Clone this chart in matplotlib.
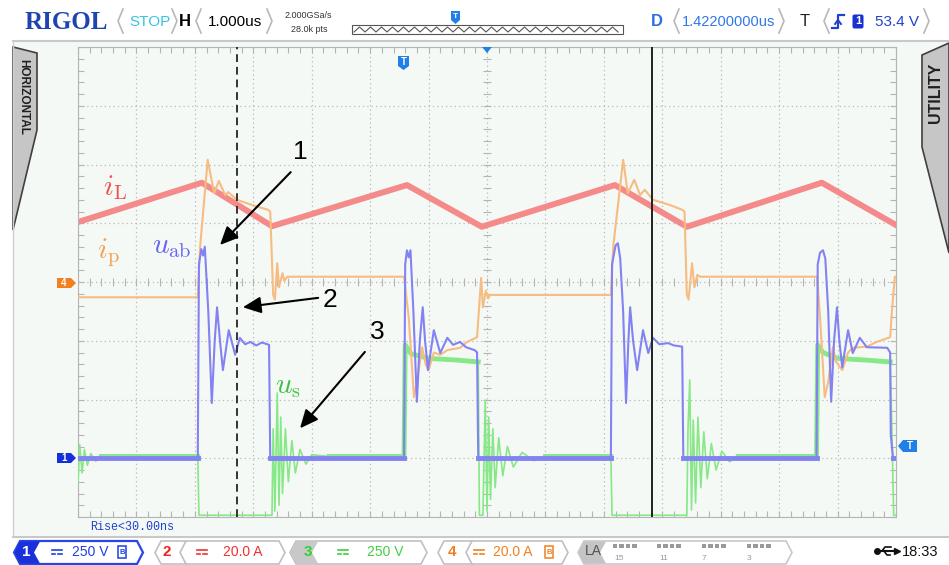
import numpy as np
import matplotlib.pyplot as plt
from matplotlib.patches import Polygon, Rectangle, FancyBboxPatch

plt.rcParams['font.family'] = ['Liberation Sans', 'DejaVu Sans']
plt.rcParams['mathtext.fontset'] = 'cm'

# time axis in us (1 us/div, 14 div), amplitude in screen divisions (0 = centre)
t_il = [0.0, 2.12, 3.32, 5.63, 6.91, 9.19, 10.42, 12.73, 14.0]
il = [1.02, 1.69, 0.95, 1.65, 0.94, 1.65, 0.94, 1.69, 0.97]

t_ip = [0.0, 2.05, 2.09, 2.22, 2.33, 2.41, 2.52, 2.57, 2.72, 2.98, 3.25, 3.29, 3.34, 3.37, 3.41, 3.44, 3.50, 3.53, 3.58, 5.58,
        5.66, 5.75, 5.80, 5.89, 5.95, 6.00, 6.09, 6.20, 6.32, 6.54, 6.66, 6.83, 6.86, 6.90, 6.93, 6.98, 7.02, 7.05, 9.12,
        9.16, 9.33, 9.41, 9.52, 9.62, 9.70, 9.84, 10.13, 10.34, 10.38, 10.42, 10.45, 10.51, 10.55, 10.60, 10.65, 12.65,
        12.70, 12.78, 12.84, 12.92, 12.97, 13.08, 13.18, 13.26, 13.50, 13.67, 13.90, 13.93, 13.98, 14.0]
ip = [-0.26, -0.26, 0.60, 2.08, 1.51, 1.72, 1.48, 1.53, 1.40, 1.31, 1.23, 1.20, -0.22, -0.30, 0.32, -0.09, 0.15, 0.02, 0.09, 0.09,
      -0.60, -1.96, -1.70, -1.11, -1.40, -1.50, -1.20, -1.24, -1.16, -1.12, -1.02, -0.94, -0.50, 0.07, -0.43, -0.15, -0.28, -0.22, -0.22,
      0.60, 2.08, 1.51, 1.74, 1.48, 1.57, 1.40, 1.31, 1.23, 1.20, -0.22, -0.30, 0.32, -0.09, 0.12, 0.09, 0.09,
      -0.60, -1.96, -1.70, -1.11, -1.35, -1.50, -1.20, -1.12, -1.10, -1.02, -0.94, -0.50, 0.09, 0.09]

t_uab = [0.0, 2.05, 2.07, 2.11, 2.14, 2.17, 2.23, 2.29, 2.34, 2.38, 2.43, 2.48, 2.58, 2.69, 2.77, 2.86, 2.95, 3.05, 3.15, 3.27, 3.29, 5.58,
         5.60, 5.63, 5.66, 5.69, 5.74, 5.80, 5.85, 5.90, 5.94, 5.99, 6.09, 6.20, 6.32, 6.42, 6.54, 6.64, 6.79, 6.83, 6.85, 9.12,
         9.14, 9.20, 9.24, 9.28, 9.33, 9.38, 9.42, 9.45, 9.50, 9.57, 9.67, 9.76, 9.84, 9.95, 10.10, 10.20, 10.34, 10.36, 12.64,
         12.66, 12.70, 12.75, 12.79, 12.84, 12.89, 12.94, 12.99, 13.03, 13.08, 13.18, 13.26, 13.38, 13.50, 13.85, 13.90, 13.91, 13.95, 14.0]
uab = [-3.0, -3.0, 0.30, 0.56, 0.45, 0.60, -0.50, -2.06, -1.00, -0.43, -1.00, -1.50, -0.82, -1.24, -0.95, -1.06, -1.02, -1.08, -1.03, -1.07, -3.0, -3.0,
       0.30, 0.54, 0.42, 0.54, -0.50, -2.04, -1.00, -0.43, -1.00, -1.50, -0.82, -1.21, -0.95, -1.07, -1.02, -1.11, -1.16, -1.20, -3.0, -3.0,
       0.30, 0.62, 0.66, 0.40, -0.50, -2.06, -1.00, -0.43, -1.00, -1.50, -0.82, -1.21, -0.95, -1.06, -1.04, -1.08, -1.10, -3.0, -3.0,
       0.30, 0.50, 0.54, 0.40, -0.50, -2.04, -1.00, -0.43, -1.00, -1.45, -0.82, -1.21, -0.95, -1.11, -1.12, -1.20, -2.60, -3.0, -3.0]

t_us = [0.0, 0.03, 0.07, 0.11, 0.16, 0.22, 0.30, 0.40, 2.05, 2.07, 3.32, 3.34, 3.37, 3.41, 3.44, 3.47, 3.50, 3.55, 3.60, 3.66, 3.72, 3.80, 3.90, 4.00, 4.30, 5.58,
        5.60, 5.70, 6.00, 6.50, 6.85, 6.87, 6.93, 6.97, 7.00, 7.03, 7.06, 7.10, 7.14, 7.20, 7.27, 7.35, 7.45, 7.60, 7.80, 8.00, 9.12,
        9.14, 10.42, 10.44, 10.47, 10.50, 10.53, 10.57, 10.61, 10.66, 10.71, 10.77, 10.84, 10.92, 11.02, 11.15, 11.30, 12.64,
        12.66, 12.75, 13.00, 13.50, 13.90, 13.93, 13.96, 14.0]
us = [-3.42, -2.77, -3.25, -2.85, -3.12, -2.92, -3.05, -2.97, -2.97, -3.97, -3.97, -2.50, -3.90, -1.89, -3.80, -2.30, -3.60, -2.50, -3.40, -2.70, -3.25, -2.85, -3.10, -2.94, -2.97, -2.97,
      -1.07, -1.22, -1.30, -1.33, -1.36, -3.97, -3.97, -2.01, -3.90, -2.30, -3.70, -2.50, -3.50, -2.65, -3.30, -2.80, -3.15, -2.90, -3.04, -2.97, -2.97,
      -3.97, -3.97, -2.50, -1.67, -3.88, -2.35, -3.76, -2.30, -3.50, -2.55, -3.35, -2.75, -3.20, -2.88, -3.06, -2.97, -2.97,
      -1.07, -1.20, -1.30, -1.33, -1.36, -2.50, -3.97, -3.97]

cursor_a = 2.72
cursor_b = 9.82

C_IL, C_IP, C_UAB, C_US = '#f48a8a', '#f7bc82', '#8282f2', '#86e886'
SCREEN = '#f5f9f5'
W, H = 949, 565

fig = plt.figure(figsize=(W / 100, H / 100), dpi=100, facecolor='white')
back = fig.add_axes([0, 0, 1, 1], zorder=0)
back.set_xlim(0, W)
back.set_ylim(H, 0)
back.axis('off')
back.add_patch(Rectangle((13, 41), W - 13, 496, fc=SCREEN, ec='none'))

# scope screen
ax = fig.add_axes([78 / W, 1 - 517 / H, (896 - 78) / W, (517 - 47) / H], zorder=1)
ax.set_facecolor(SCREEN)
ax.set_xlim(0, 14)
ax.set_ylim(-4, 4)
ax.set_xticks(range(15))
ax.set_yticks(range(-4, 5))
ax.set_xticks(np.arange(0, 14.01, 0.2), minor=True)
ax.set_yticks(np.arange(-4, 4.01, 0.2), minor=True)
ax.tick_params(which='both', direction='in', length=4, width=0.8, color='#b4b4b4',
               top=True, right=True, labelbottom=False, labelleft=False)
ax.grid(True, which='major', ls=(0, (1, 2.5)), color='#b8b8b8', lw=0.9)
for s in ax.spines.values():
    s.set_color('#b4b4b4')
cx = np.arange(0.2, 14, 0.2)
ax.plot(cx, np.zeros_like(cx), ls='none', marker='|', ms=6, mew=0.8, color='#b4b4b4')
cy = np.arange(-3.8, 4, 0.2)
ax.plot(np.full_like(cy, 7), cy, ls='none', marker='_', ms=6, mew=0.8, color='#b4b4b4')

# traces
ax.plot(t_il, il, color=C_IL, lw=4.3, zorder=2)
us_a = np.array(us)
us_band = np.where(np.isclose(us_a, -2.97) | (us_a > -1.45), us_a, np.nan)
ax.plot(t_us, us_band, color=C_US, lw=3.5, zorder=3)
ax.plot(t_us, us, color=C_US, lw=1.2, zorder=3)
ax.plot(t_ip, ip, color=C_IP, lw=1.5, zorder=4)
uab_a = np.array(uab)
uab_band = np.where(uab_a <= -2.99, uab_a, np.nan)
ax.plot(t_uab, uab_band, color=C_UAB, lw=3.5, zorder=5)
ax.plot(t_uab, uab, color=C_UAB, lw=1.5, zorder=5)

ax.axvline(cursor_a, color='#333333', lw=1.4, ls=(0, (4, 2.5)), zorder=6)
ax.axvline(cursor_b, color='#222222', lw=1.4, zorder=6)

# labels and arrows
ax.text(0.43, 1.48, r'$i_{\rm L}$', color='#f05050', fontsize=21, zorder=7)
ax.text(0.33, 0.41, r'$i_{\rm p}$', color='#f5a050', fontsize=21, zorder=7)
ax.text(1.27, 0.49, r'$u_{\rm ab}$', color='#6464f0', fontsize=21, zorder=7)
ax.text(3.37, -1.89, r'$u_{\rm s}$', color='#40c040', fontsize=21, zorder=7)
for lab, pos, tail, head in [('1', (3.80, 2.21), (3.64, 1.87), (2.43, 0.63)),
                             ('2', (4.31, -0.31), (4.11, -0.27), (2.82, -0.43)),
                             ('3', (5.13, -0.85), (4.91, -1.19), (3.80, -2.49))]:
    ax.text(pos[0], pos[1], lab, fontsize=19, ha='center', va='center', zorder=8)
    ax.annotate('', xy=head, xytext=tail, zorder=8,
                arrowprops=dict(arrowstyle='-|>,head_length=0.55,head_width=0.25', color='k',
                                lw=1.5, mutation_scale=20, shrinkA=0, shrinkB=0))

# instrument chrome, pixel coordinates
ov = fig.add_axes([0, 0, 1, 1], zorder=2)
ov.set_xlim(0, W)
ov.set_ylim(H, 0)
ov.axis('off')
ov.patch.set_alpha(0)

ov.plot([13, W], [41, 41], color='#c8c8c8', lw=1.5)
ov.plot([13, W], [537, 537], color='#c8c8c8', lw=1.5)
ov.plot([13, 13], [41, 537], color='#d0d0d0', lw=1)


def lbr(x, y0=9, y1=33, c='#b8b8b8'):
    ov.plot([x + 5, x, x + 5], [y0, (y0 + y1) / 2, y1], color=c, lw=1.2)


def rbr(x, y0=9, y1=33, c='#b8b8b8'):
    ov.plot([x - 5, x, x - 5], [y0, (y0 + y1) / 2, y1], color=c, lw=1.2)


ov.text(25, 29, 'RIGOL', family=['Liberation Serif', 'DejaVu Serif'], weight='bold', fontsize=18,
        color='#1e44b0', va='baseline')
lbr(118); rbr(177)
ov.text(150, 22, 'STOP', color='#38c4e6', fontsize=11, ha='center', va='center')
ov.text(185, 22, 'H', weight='bold', fontsize=12, ha='center', va='center')
lbr(196); rbr(272)
ov.text(235, 22, '1.000us', fontsize=11, ha='center', va='center')
ov.text(308, 15, '2.000GSa/s', fontsize=6.5, ha='center', va='center', color='#333333')
ov.text(309, 30, '28.0k pts', fontsize=6.5, ha='center', va='center', color='#333333')
ov.add_patch(Rectangle((352, 25), 271, 9, fc='white', ec='#555555', lw=0.8))
zx = np.arange(354, 621, 5.5)
zy = np.where(np.arange(len(zx)) % 2 == 0, 32, 27)
ov.plot(zx, zy, color='#555555', lw=0.8)
ov.add_patch(Polygon([(451, 11), (460, 11), (460, 20), (455.5, 24), (451, 20)], fc='#2080e8', ec='none'))
ov.text(455.5, 16, 'T', color='white', fontsize=6, weight='bold', ha='center', va='center')
ov.text(657, 22, 'D', weight='bold', fontsize=12, color='#2a70e0', ha='center', va='center')
lbr(674); rbr(784)
ov.text(729, 22, '1.42200000us', fontsize=10.5, color='#3078e6', ha='center', va='center')
ov.text(805, 22, 'T', fontsize=12, color='#222222', ha='center', va='center')
lbr(824); rbr(929)
ov.plot([832, 838, 838, 844], [28, 28, 15, 15], color='#2040d0', lw=1.6)
ov.plot([835, 838, 841], [24, 20, 24], color='#2040d0', lw=1.4)
ov.add_patch(FancyBboxPatch((853, 15), 10, 13, boxstyle='round,pad=0.5,rounding_size=2', fc='#1a30d0', ec='none'))
ov.text(858, 21.5, '1', color='white', fontsize=8, weight='bold', ha='center', va='center')
ov.text(897, 22, '53.4 V', fontsize=11, color='#2040d0', ha='center', va='center')

# side tabs
ov.add_patch(Polygon([(13, 47), (37, 53), (37, 130), (13, 230)], fc='#c6c6c6', ec='#404040', lw=1.2))
ov.text(23, 97, 'HORIZONTAL', rotation=270, fontsize=8.5, weight='bold', ha='center', va='center', color='#202020')
ov.add_patch(Polygon([(W, 43), (922, 55), (922, 147), (W, 253)], fc='#c6c6c6', ec='#404040', lw=1.2))
ov.text(936, 93, 'UTILITY', rotation=90, fontsize=11.5, weight='bold', ha='center', va='center', color='#202020')

# channel markers on the screen edges
ov.add_patch(Polygon([(57, 278), (71, 278), (76, 283), (71, 288), (57, 288)], fc='#f08020', ec='none'))
ov.text(64, 283, '4', color='white', fontsize=7, weight='bold', ha='center', va='center')
ov.add_patch(Polygon([(57, 453), (71, 453), (76, 458), (71, 463), (57, 463)], fc='#1530d8', ec='none'))
ov.text(64, 458, '1', color='white', fontsize=7, weight='bold', ha='center', va='center')
ov.add_patch(Polygon([(898, 446), (903, 440), (917, 440), (917, 452), (903, 452)], fc='#2080e8', ec='none'))
ov.text(910, 446, 'T', color='white', fontsize=7, weight='bold', ha='center', va='center')
ov.add_patch(Polygon([(398, 56), (409, 56), (409, 66), (403.5, 70), (398, 66)], fc='#2080e8', ec='none'))
ov.text(403.5, 62, 'T', color='white', fontsize=7, weight='bold', ha='center', va='center')
ov.add_patch(Polygon([(482, 47), (492, 47), (487, 53)], fc='#2080e8', ec='none'))
ov.text(90, 527, 'Rise<30.00ns', family=['Liberation Mono', 'DejaVu Sans Mono'], fontsize=8.5,
        color='#2040d0', va='center')


# bottom status bar
def chev(x0, x1, ec, fc='white', y0=541, y1=564, d=6, lw=1.2):
    ym = (y0 + y1) / 2
    pts = [(x0 + d, y0), (x1 - d, y0), (x1, ym), (x1 - d, y1), (x0 + d, y1), (x0, ym)]
    ov.add_patch(Polygon(pts, closed=True, ec=ec, fc=fc, lw=lw))


def dc_sym(x, c, y=552):
    ov.plot([x - 5, x + 5], [y - 2, y - 2], color=c, lw=1.2)
    ov.plot([x - 5, x - 1.5], [y + 2, y + 2], color=c, lw=1.2)
    ov.plot([x + 1.5, x + 5], [y + 2, y + 2], color=c, lw=1.2)


def bw_icon(x, c, y=552):
    ov.add_patch(Rectangle((x - 4, y - 6), 8, 12, fill=False, ec=c, lw=1.1))
    ov.text(x, y, 'B', color=c, fontsize=5.5, weight='bold', ha='center', va='center')


chev(14, 143, '#2846e8', lw=1.6)
ov.add_patch(Polygon([(20, 541.5), (40, 541.5), (34, 552.5), (40, 563.5), (20, 563.5), (14.5, 552.5)], fc='#1a30d8', ec='none'))
ov.text(26, 552.5, '1', color='white', fontsize=11, weight='bold', ha='center', va='center')
dc_sym(57, '#2040e0')
ov.text(90, 552.5, '250 V', color='#2040e0', fontsize=10, ha='center', va='center')
bw_icon(122, '#2040e0')

chev(155, 285, '#c0c0c0')
ov.plot([186, 180, 186], [541, 552.5, 564], color='#c0c0c0', lw=1.2)
ov.text(167, 552.5, '2', color='#f02020', fontsize=11, weight='bold', ha='center', va='center')
dc_sym(202, '#f03030')
ov.text(243, 552.5, '20.0 A', color='#f03030', fontsize=10, ha='center', va='center')

chev(290, 427, '#c0c0c0')
ov.add_patch(Polygon([(296, 541.5), (318, 541.5), (312, 552.5), (318, 563.5), (296, 563.5), (290.5, 552.5)], fc='#c8c8c8', ec='none'))
ov.text(308, 552.5, '3', color='#30d030', fontsize=11, weight='bold', ha='center', va='center')
dc_sym(343, '#40d040')
ov.text(385, 552.5, '250 V', color='#40d040', fontsize=10, ha='center', va='center')

chev(438, 568, '#c0c0c0')
ov.plot([472, 466, 472], [541, 552.5, 564], color='#c0c0c0', lw=1.2)
ov.text(452, 552.5, '4', color='#f08020', fontsize=11, weight='bold', ha='center', va='center')
dc_sym(479, '#f08020')
ov.text(513, 552.5, '20.0 A', color='#f08020', fontsize=10, ha='center', va='center')
bw_icon(549, '#f08020')

chev(578, 792, '#c8c8c8')
ov.add_patch(Polygon([(584, 541.5), (606, 541.5), (600, 552.5), (606, 563.5), (584, 563.5), (578.5, 552.5)], fc='#c4c4c4', ec='none'))
ov.text(593, 551, 'LA', color='#555555', fontsize=10, ha='center', va='center')
for gx in [613, 657, 702, 747]:
    for k in range(4):
        ov.add_patch(Rectangle((gx + k * 6.5, 544), 4.5, 4, fc='#9a9a9a', ec='none'))
for gx, lab in [(619, '15'), (664, '11'), (704, '7'), (749, '3')]:
    ov.text(gx, 559, lab, color='#999999', fontsize=6, ha='center', va='center')

ov.plot([877, 896], [551, 551], color='#111111', lw=1.5)
ov.plot([877], [551], marker='o', ms=4, color='#111111')
ov.plot([897], [551], marker='>', ms=5, color='#111111')
ov.plot([882, 885, 891], [551, 547, 547], color='#111111', lw=1.2)
ov.plot([884, 887, 890], [551, 555, 555], color='#111111', lw=1.2)
ov.text(920, 552, '18:33', fontsize=10.5, ha='center', va='center', color='#111111')

plt.savefig('out.png', dpi=100, facecolor=fig.get_facecolor())
